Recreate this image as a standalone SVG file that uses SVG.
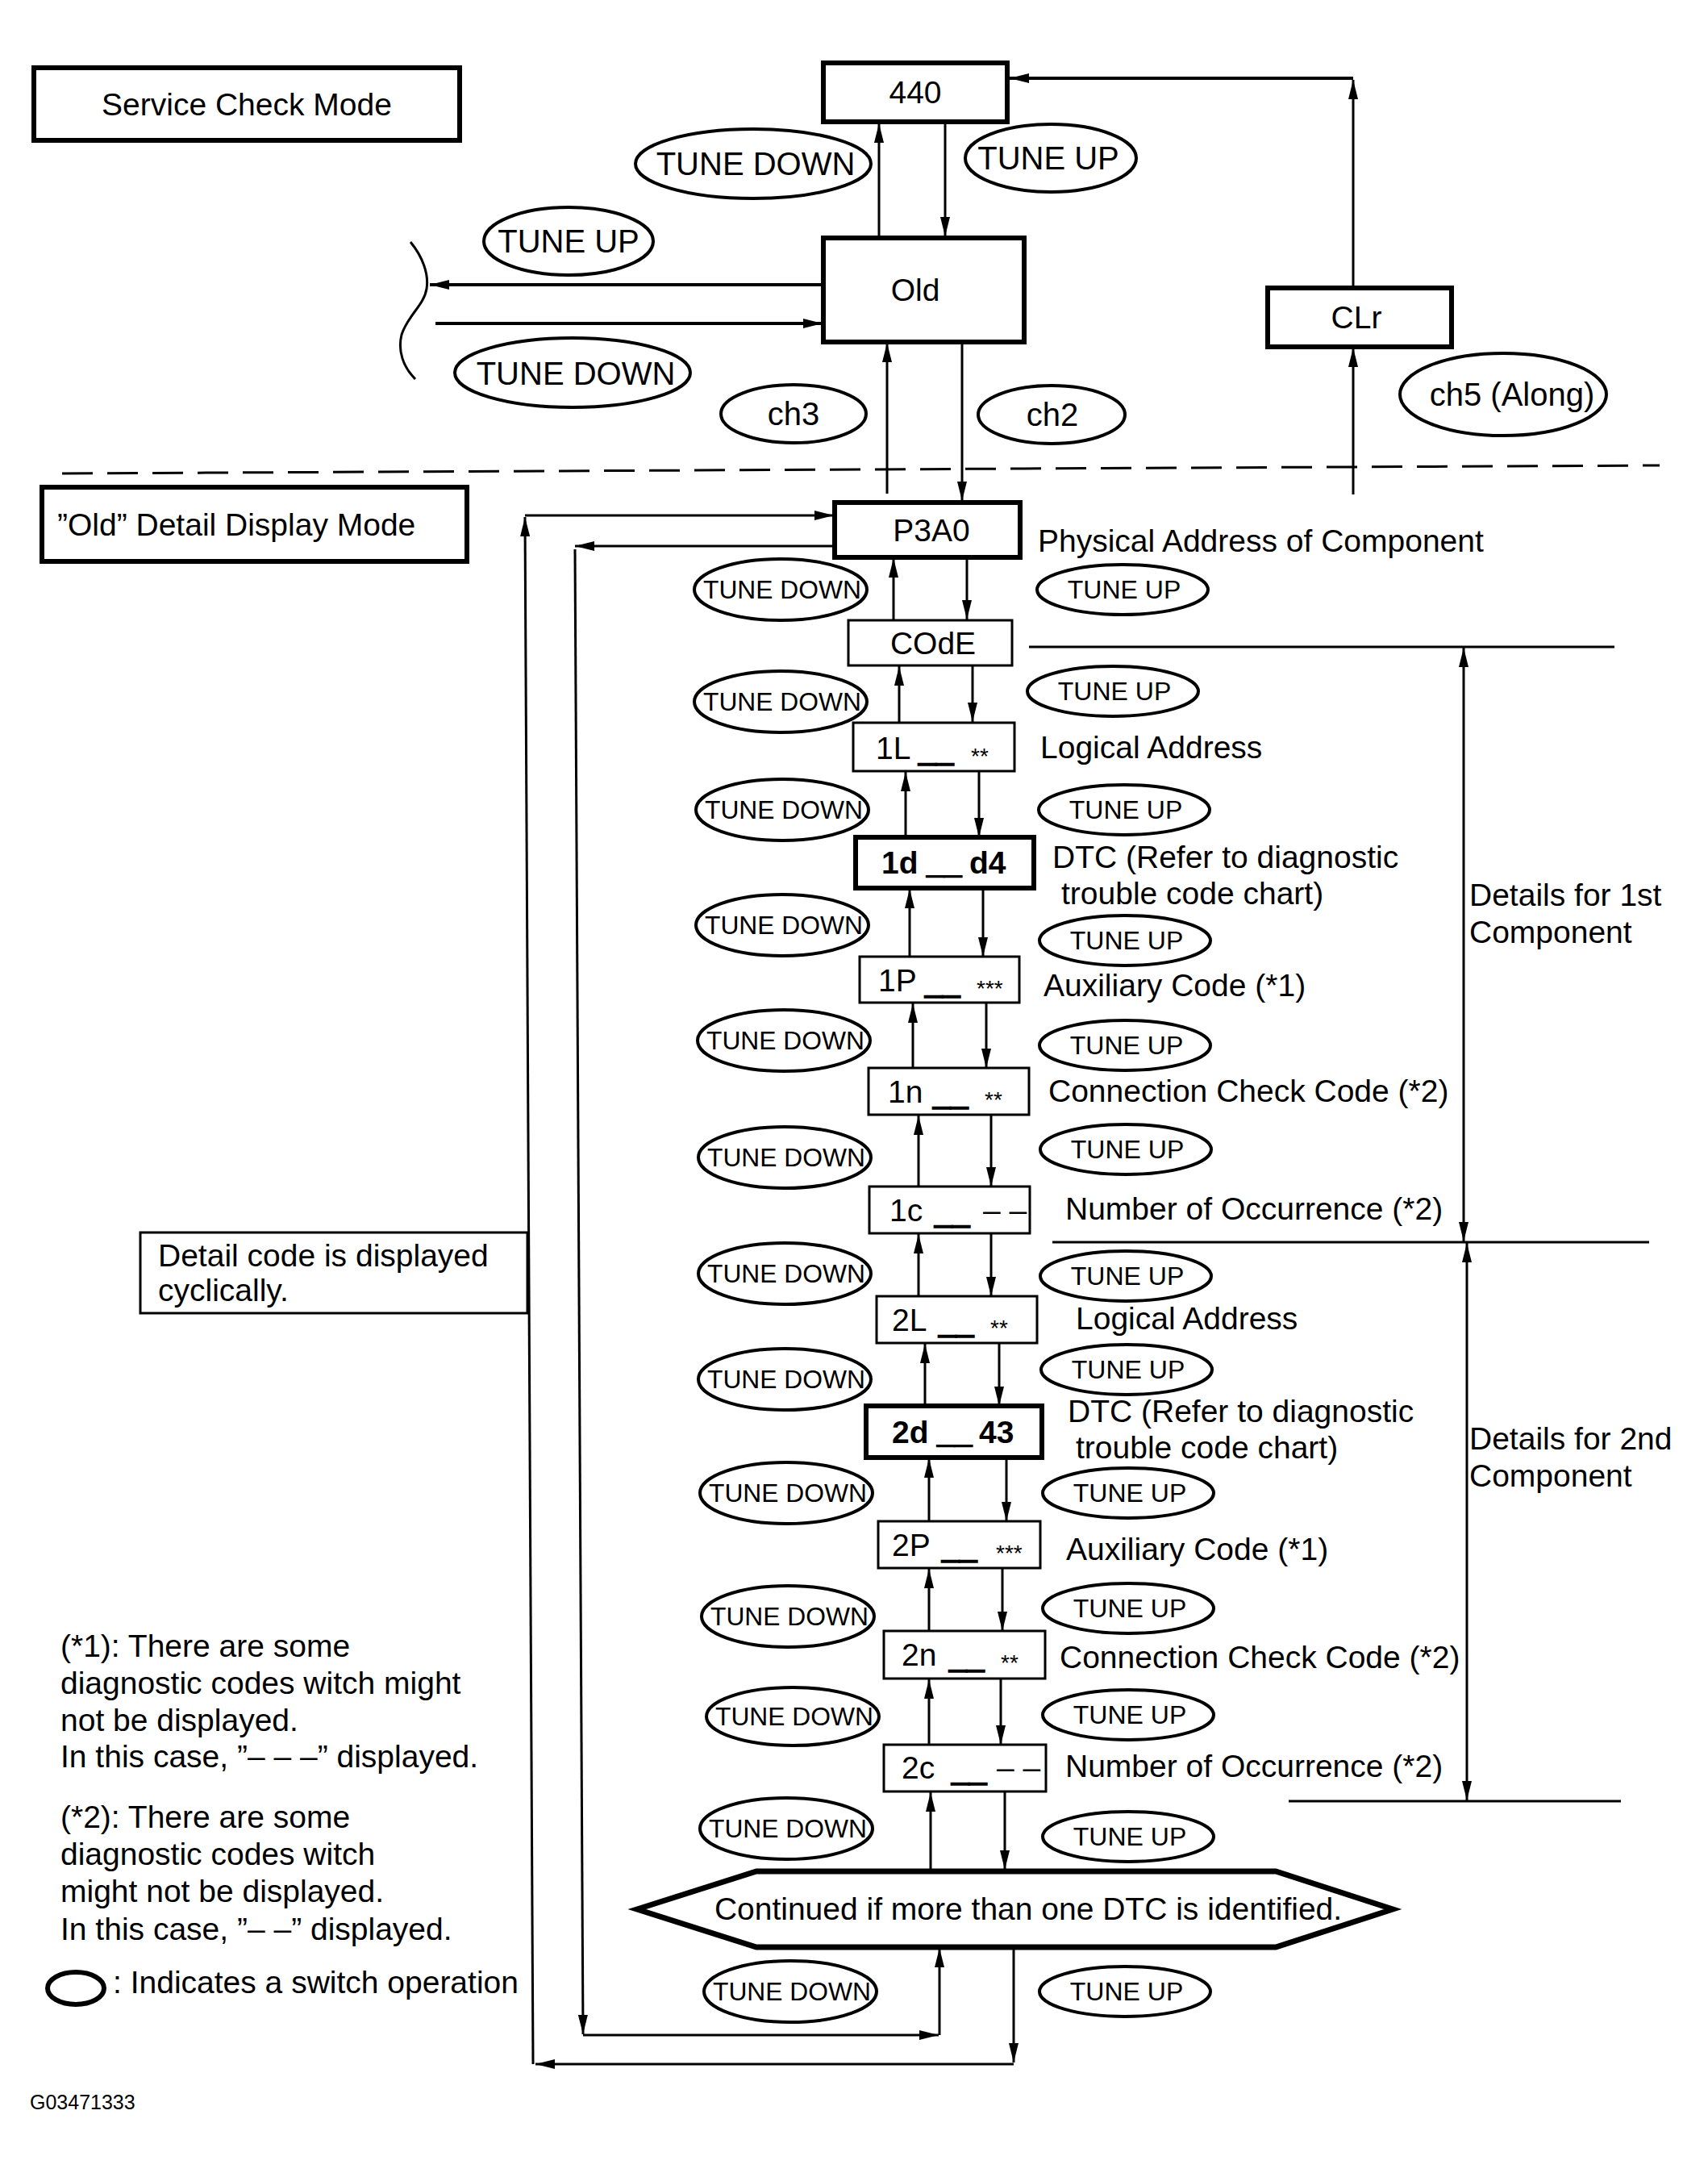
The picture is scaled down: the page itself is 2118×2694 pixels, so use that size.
<svg xmlns="http://www.w3.org/2000/svg" width="2118" height="2694" viewBox="0 0 2118 2694">
<defs>
<style>
.t{font-family:"Liberation Sans",Arial,Helvetica,sans-serif;font-size:39px;fill:#000}
.m{text-anchor:middle}
.b{font-weight:bold}
.big{font-size:40px}
.sm{font-size:32px;text-anchor:middle}
.ast{font-size:28px}
.us{stroke:#000;stroke-width:1.6}
.bk{fill:#fff;stroke:#000;stroke-width:6}
.bn{fill:#fff;stroke:#000;stroke-width:3}
.el{fill:#fff;stroke:#000;stroke-width:4}
.ln{fill:none;stroke:#000;stroke-width:3}
.lw{fill:none;stroke:#000;stroke-width:4}
.a{marker-end:url(#ah)}
.aa{marker-start:url(#ah);marker-end:url(#ah)}
</style>
<marker id="ah" viewBox="0 0 24 12" markerWidth="24" markerHeight="12" refX="24" refY="6" orient="auto-start-reverse" markerUnits="userSpaceOnUse"><path d="M0,0 L24,6 L0,12 z" fill="#000"/></marker>
</defs>
<rect width="2118" height="2694" fill="#fff"/>

<g id="connectors">
<!-- top section -->
<path class="ln a" d="M1172,153 L1172,293"/>
<path class="ln a" d="M1090,293 L1090,153"/>
<path class="lw a" d="M1020,353 L533,353"/>
<path class="lw a" d="M540,401 L1020,401"/>
<path class="ln a" d="M1193,425 L1193,621"/>
<path class="ln a" d="M1100,612 L1100,425"/>
<path class="ln a" d="M1678,613 L1678,431"/>
<path class="ln a" d="M1678,357 L1678,99"/>
<path class="lw a" d="M1678,97 L1252,97"/>
<path d="M509,300 C524,318 532,340 529,358 C526,378 505,392 498,415 C493,435 500,455 515,470" fill="none" stroke="#000" stroke-width="3"/>
<path d="M77,587 L2058,577" fill="none" stroke="#000" stroke-width="3" stroke-dasharray="38 18"/>
<!-- loops -->
<path class="ln a" d="M651,639 L1034,639"/>
<path class="ln a" d="M661,2559 L651,641"/>
<path class="ln a" d="M1257,2559 L664,2559"/>
<path class="ln a" d="M1257,2414 L1257,2557"/>
<path class="ln a" d="M1034,677 L713,677"/>
<path class="ln a" d="M713,681 L723,2522"/>
<path class="ln a" d="M723,2523 L1164,2523"/>
<path class="ln a" d="M1165,2523 L1165,2415"/>
<!-- chain -->
<path class="ln a" d="M1108,768 L1108,692"/>
<path class="ln a" d="M1199,692 L1199,768"/>
<path class="ln a" d="M1115,895 L1115,826"/>
<path class="ln a" d="M1206,826 L1206,895"/>
<path class="ln a" d="M1123,1038 L1123,957"/>
<path class="ln a" d="M1214,957 L1214,1038"/>
<path class="ln a" d="M1128,1186 L1128,1102"/>
<path class="ln a" d="M1219,1102 L1219,1186"/>
<path class="ln a" d="M1132,1324 L1132,1244"/>
<path class="ln a" d="M1223,1244 L1223,1324"/>
<path class="ln a" d="M1139,1471 L1139,1383"/>
<path class="ln a" d="M1229,1383 L1229,1471"/>
<path class="ln a" d="M1139,1607 L1139,1530"/>
<path class="ln a" d="M1229,1530 L1229,1607"/>
<path class="ln a" d="M1147,1743 L1147,1666"/>
<path class="ln a" d="M1239,1666 L1239,1743"/>
<path class="ln a" d="M1152,1886 L1152,1808"/>
<path class="ln a" d="M1248,1808 L1248,1886"/>
<path class="ln a" d="M1152,2022 L1152,1945"/>
<path class="ln a" d="M1243,1945 L1243,2022"/>
<path class="ln a" d="M1152,2163 L1152,2082"/>
<path class="ln a" d="M1241,2082 L1241,2163"/>
<path class="ln a" d="M1154,2318 L1154,2222"/>
<path class="ln a" d="M1246,2222 L1246,2318"/>
<!-- brackets -->
<path class="ln" d="M1276,802 L2002,802" stroke-width="2.5"/>
<path class="ln" d="M1305,1540 L2045,1540" stroke-width="2.5"/>
<path class="ln" d="M1598,2233 L2010,2233" stroke-width="2.5"/>
<path class="ln aa" d="M1815,803 L1815,1539"/>
<path class="ln aa" d="M1819,1541 L1819,2232"/>
</g>

<g id="service-check-mode"><rect class="bk" x="42" y="84" width="528" height="90"/><text class="t m" x="306" y="143">Service Check Mode</text></g>
<g id="n440"><rect class="bk" x="1021" y="78" width="228" height="73"/><text class="t m" x="1135" y="128">440</text></g>
<g id="old"><rect class="bk" x="1021" y="295" width="249" height="129"/><text class="t m" x="1135" y="373">Old</text></g>
<g id="clr"><rect class="bk" x="1572" y="357" width="228" height="73" stroke-width="5"/><text class="t m" x="1682" y="407">CLr</text></g>
<g id="sw-top-down"><ellipse class="el" cx="934" cy="203" rx="146" ry="43"/><text class="t m big" x="937" y="217">TUNE DOWN</text></g>
<g id="sw-top-up"><ellipse class="el" cx="1303" cy="196" rx="106" ry="42"/><text class="t m big" x="1300" y="210">TUNE UP</text></g>
<g id="sw-left-up"><ellipse class="el" cx="705" cy="299" rx="105" ry="42"/><text class="t m big" x="705" y="313">TUNE UP</text></g>
<g id="sw-left-down"><ellipse class="el" cx="710" cy="462" rx="146" ry="43"/><text class="t m big" x="714" y="477">TUNE DOWN</text></g>
<g id="sw-ch3"><ellipse class="el" cx="984" cy="513" rx="90" ry="36"/><text class="t m big" x="984" y="527">ch3</text></g>
<g id="sw-ch2"><ellipse class="el" cx="1304" cy="514" rx="91" ry="36"/><text class="t m big" x="1305" y="528">ch2</text></g>
<g id="sw-ch5"><ellipse class="el" cx="1864" cy="489" rx="128" ry="51"/><text class="t m big" x="1875" y="503">ch5 (Along)</text></g>

<g id="detail-display-mode"><rect class="bk" x="52" y="604" width="527" height="92"/><text class="t" x="71" y="664">”Old” Detail Display Mode</text></g>
<g id="p3a0"><rect class="bk" x="1035" y="623" width="230" height="68"/><text class="t m" x="1155" y="671">P3A0</text><text class="t" x="1287" y="684">Physical Address of Component</text></g>
<g id="code"><rect class="bn" x="1052" y="769" width="203" height="56"/><text class="t m" x="1157" y="811">COdE</text></g>
<g id="n1L"><rect class="bn" x="1058" y="896" width="200" height="60"/><text class="t" x="1086" y="941">1L<tspan class="us" x="1139">__</tspan><tspan class="ast" x="1204" y="947">**</tspan></text><text class="t" x="1290" y="940">Logical Address</text></g>
<g id="n1d"><rect class="bk" x="1061" y="1038" width="221" height="63"/><text class="t b" x="1093" y="1083">1d<tspan class="us" x="1149">__</tspan><tspan x="1202">d4</tspan></text><text class="t" x="1305" y="1076">DTC (Refer to diagnostic</text><text class="t" x="1316" y="1121">trouble code chart)</text></g>
<g id="n1P"><rect class="bn" x="1066" y="1186" width="198" height="57"/><text class="t" x="1089" y="1229">1P<tspan class="us" x="1147">__</tspan><tspan class="ast" x="1211" y="1235">***</tspan></text><text class="t" x="1294" y="1235">Auxiliary Code (*1)</text></g>
<g id="n1n"><rect class="bn" x="1077" y="1324" width="199" height="58"/><text class="t" x="1101" y="1367">1n<tspan class="us" x="1157">__</tspan><tspan class="ast" x="1221" y="1373">**</tspan></text><text class="t" x="1300" y="1366">Connection Check Code (*2)</text></g>
<g id="n1c"><rect class="bn" x="1078" y="1471" width="199" height="58"/><text class="t" x="1103" y="1514">1c<tspan class="us" x="1159">__</tspan><tspan x="1219">– –</tspan></text><text class="t" x="1321" y="1512">Number of Occurrence (*2)</text></g>
<g id="details1"><text class="t" x="1822" y="1123">Details for 1st</text><text class="t" x="1822" y="1169">Component</text></g>
<g id="n2L"><rect class="bn" x="1087" y="1607" width="199" height="58"/><text class="t" x="1106" y="1650">2L<tspan class="us" x="1164">__</tspan><tspan class="ast" x="1228" y="1656">**</tspan></text><text class="t" x="1334" y="1648">Logical Address</text></g>
<g id="n2d"><rect class="bk" x="1074" y="1743" width="218" height="64"/><text class="t b" x="1106" y="1789">2d<tspan class="us" x="1162">__</tspan><tspan x="1214">43</tspan></text><text class="t" x="1324" y="1763">DTC (Refer to diagnostic</text><text class="t" x="1334" y="1808">trouble code chart)</text></g>
<g id="details2"><text class="t" x="1822" y="1797">Details for 2nd</text><text class="t" x="1822" y="1843">Component</text></g>
<g id="n2P"><rect class="bn" x="1089" y="1886" width="201" height="58"/><text class="t" x="1106" y="1929">2P<tspan class="us" x="1168">__</tspan><tspan class="ast" x="1235" y="1935">***</tspan></text><text class="t" x="1322" y="1934">Auxiliary Code (*1)</text></g>
<g id="n2n"><rect class="bn" x="1096" y="2022" width="200" height="59"/><text class="t" x="1118" y="2065">2n<tspan class="us" x="1177">__</tspan><tspan class="ast" x="1241" y="2071">**</tspan></text><text class="t" x="1314" y="2068">Connection Check Code (*2)</text></g>
<g id="n2c"><rect class="bn" x="1096" y="2163" width="201" height="58"/><text class="t" x="1118" y="2205">2c<tspan class="us" x="1180">__</tspan><tspan x="1236">– –</tspan></text><text class="t" x="1321" y="2203">Number of Occurrence (*2)</text></g>
<g id="continued"><polygon points="790,2367 938,2320 1582,2320 1727,2367 1582,2414 938,2414" fill="#fff" stroke="#000" stroke-width="7"/><text class="t m" x="1275" y="2380">Continued if more than one DTC is identified.</text></g>
<g id="cyclic-note"><rect class="bn" x="174" y="1528" width="480" height="100"/><text class="t" x="196" y="1570">Detail code is displayed</text><text class="t" x="196" y="1613">cyclically.</text></g>

<g id="switches-down">
<ellipse class="el" cx="968" cy="731" rx="107" ry="38"/><text class="t sm" x="970" y="742" textLength="196" lengthAdjust="spacingAndGlyphs">TUNE DOWN</text>
<ellipse class="el" cx="968" cy="870" rx="107" ry="38"/><text class="t sm" x="970" y="881" textLength="196" lengthAdjust="spacingAndGlyphs">TUNE DOWN</text>
<ellipse class="el" cx="970" cy="1004" rx="107" ry="38"/><text class="t sm" x="972" y="1015" textLength="196" lengthAdjust="spacingAndGlyphs">TUNE DOWN</text>
<ellipse class="el" cx="970" cy="1147" rx="107" ry="38"/><text class="t sm" x="972" y="1158" textLength="196" lengthAdjust="spacingAndGlyphs">TUNE DOWN</text>
<ellipse class="el" cx="972" cy="1290" rx="107" ry="38"/><text class="t sm" x="974" y="1301" textLength="196" lengthAdjust="spacingAndGlyphs">TUNE DOWN</text>
<ellipse class="el" cx="973" cy="1435" rx="107" ry="38"/><text class="t sm" x="975" y="1446" textLength="196" lengthAdjust="spacingAndGlyphs">TUNE DOWN</text>
<ellipse class="el" cx="973" cy="1579" rx="107" ry="38"/><text class="t sm" x="975" y="1590" textLength="196" lengthAdjust="spacingAndGlyphs">TUNE DOWN</text>
<ellipse class="el" cx="973" cy="1710" rx="107" ry="38"/><text class="t sm" x="975" y="1721" textLength="196" lengthAdjust="spacingAndGlyphs">TUNE DOWN</text>
<ellipse class="el" cx="975" cy="1851" rx="107" ry="38"/><text class="t sm" x="977" y="1862" textLength="196" lengthAdjust="spacingAndGlyphs">TUNE DOWN</text>
<ellipse class="el" cx="977" cy="2004" rx="107" ry="38"/><text class="t sm" x="979" y="2015" textLength="196" lengthAdjust="spacingAndGlyphs">TUNE DOWN</text>
<ellipse class="el" cx="983" cy="2128" rx="107" ry="36"/><text class="t sm" x="985" y="2139" textLength="196" lengthAdjust="spacingAndGlyphs">TUNE DOWN</text>
<ellipse class="el" cx="975" cy="2267" rx="107" ry="38"/><text class="t sm" x="977" y="2278" textLength="196" lengthAdjust="spacingAndGlyphs">TUNE DOWN</text>
<ellipse class="el" cx="980" cy="2469" rx="107" ry="38"/><text class="t sm" x="982" y="2480" textLength="196" lengthAdjust="spacingAndGlyphs">TUNE DOWN</text>
</g>
<g id="switches-up">
<ellipse class="el" cx="1392" cy="731" rx="106" ry="31"/><text class="t sm" x="1394" y="742">TUNE UP</text>
<ellipse class="el" cx="1380" cy="857" rx="106" ry="31"/><text class="t sm" x="1382" y="868">TUNE UP</text>
<ellipse class="el" cx="1394" cy="1004" rx="106" ry="31"/><text class="t sm" x="1396" y="1015">TUNE UP</text>
<ellipse class="el" cx="1395" cy="1166" rx="106" ry="31"/><text class="t sm" x="1397" y="1177">TUNE UP</text>
<ellipse class="el" cx="1395" cy="1296" rx="106" ry="31"/><text class="t sm" x="1397" y="1307">TUNE UP</text>
<ellipse class="el" cx="1396" cy="1425" rx="106" ry="31"/><text class="t sm" x="1398" y="1436">TUNE UP</text>
<ellipse class="el" cx="1396" cy="1582" rx="106" ry="31"/><text class="t sm" x="1398" y="1593">TUNE UP</text>
<ellipse class="el" cx="1397" cy="1698" rx="106" ry="31"/><text class="t sm" x="1399" y="1709">TUNE UP</text>
<ellipse class="el" cx="1399" cy="1851" rx="106" ry="31"/><text class="t sm" x="1401" y="1862">TUNE UP</text>
<ellipse class="el" cx="1399" cy="1994" rx="106" ry="31"/><text class="t sm" x="1401" y="2005">TUNE UP</text>
<ellipse class="el" cx="1399" cy="2126" rx="106" ry="31"/><text class="t sm" x="1401" y="2137">TUNE UP</text>
<ellipse class="el" cx="1399" cy="2277" rx="106" ry="31"/><text class="t sm" x="1401" y="2288">TUNE UP</text>
<ellipse class="el" cx="1395" cy="2469" rx="106" ry="31"/><text class="t sm" x="1397" y="2480">TUNE UP</text>
</g>

<g id="notes">
<text class="t" x="75" y="2054">(*1): There are some</text>
<text class="t" x="75" y="2100">diagnostic codes witch might</text>
<text class="t" x="75" y="2146">not be displayed.</text>
<text class="t" x="75" y="2191">In this case, ”– – –” displayed.</text>
<text class="t" x="75" y="2266">(*2): There are some</text>
<text class="t" x="75" y="2312">diagnostic codes witch</text>
<text class="t" x="75" y="2358">might not be displayed.</text>
<text class="t" x="75" y="2405">In this case, ”– –” displayed.</text>
</g>
<g id="legend"><ellipse cx="94" cy="2465" rx="35" ry="20" fill="none" stroke="#000" stroke-width="6"/><text class="t" x="140" y="2471">: Indicates a switch operation</text></g>
<g id="figure-id"><text class="t" x="37" y="2615" style="font-size:25px">G03471333</text></g>
</svg>
